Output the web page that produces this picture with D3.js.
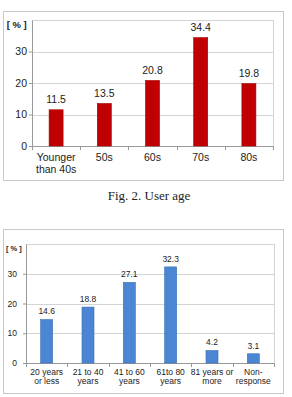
<!DOCTYPE html>
<html>
<head>
<meta charset="utf-8">
<script src="https://cdn.jsdelivr.net/npm/d3@7"></script>
<style>
  body { margin: 0; background: #fff; }
  svg { display: block; }
</style>
</head>
<body>
<svg id="plotSVG" width="292" height="397"></svg>
<script>
// chart 1 - user age
var ageCats = ["Younger|than 40s", "50s", "60s", "70s", "80s"];
var ageValues = [11.5, 13.5, 20.8, 34.4, 19.8];

// chart 2 - second age question
var ageCats2 = ["20 years|or less", "21 to 40|years", "41 to 60|years", "61to 80|years", "81 years or|more", "Non-|response"];
var ageValues2 = [14.6, 18.8, 27.1, 32.3, 4.2, 3.1];

var yTicks = [0, 10, 20, 30];

var svg = d3.select("#plotSVG");

function drawChart(opts) {
  // outer frame
  svg.append("rect")
    .attr("x", opts.box[0] + 0.5).attr("y", opts.box[1] + 0.5)
    .attr("width", opts.box[2]).attr("height", opts.box[3])
    .attr("fill", "#fff").attr("stroke", "#c8c8c8");

  let g = svg.append("g")
    .attr("transform", "translate(" + opts.left + "," + opts.top + ")");

  let xScale = d3.scaleBand()
    .domain(opts.cats)
    .range([0, opts.w]);

  let yScale = d3.scaleLinear()
    .domain([0, 40])
    .range([opts.h, 0]);

  // plot area border
  g.append("rect")
    .attr("x", 0.5).attr("y", 0.5)
    .attr("width", opts.w).attr("height", opts.h)
    .attr("fill", "none").attr("stroke", "#d4d4d4");

  // gridlines
  g.selectAll(".grid")
    .data(yTicks.slice(1))
    .join("line")
    .attr("x1", 0).attr("x2", opts.w)
    .attr("y1", d => Math.round(yScale(d)) + 0.5)
    .attr("y2", d => Math.round(yScale(d)) + 0.5)
    .attr("stroke", "#d4d4d4");

  let yAxis = g.append("g")
    .call(d3.axisLeft(yScale).tickValues(yTicks).tickSize(3).tickSizeOuter(0).tickPadding(opts.tickPad));
  yAxis.select(".domain").attr("stroke", "#999");
  yAxis.selectAll(".tick line").attr("stroke", "#999");
  yAxis.selectAll("text")
    .style("font-family", "'Liberation Sans', Arial, sans-serif")
    .style("font-size", opts.fs + "px").attr("fill", "#222");

  // [ % ] label in place of the top tick
  g.append("text")
    .attr("x", -opts.fs * 0.5).attr("y", opts.fs * 0.8)
    .attr("text-anchor", "end")
    .style("font-family", "'Liberation Sans', Arial, sans-serif")
    .style("font-size", (opts.fs - 1) + "px")
    .style("font-weight", "bold")
    .attr("fill", "#222")
    .text("[ % ]");

  // x axis
  let xAxis = g.append("g")
    .attr("transform", "translate(0," + opts.h + ")");
  xAxis.append("line")
    .attr("x1", 0).attr("x2", opts.w)
    .attr("y1", 0.5).attr("y2", 0.5)
    .attr("stroke", "#999");
  xAxis.selectAll(".xtick")
    .data(d3.range(opts.cats.length + 1))
    .join("line")
    .attr("x1", i => Math.round(i * xScale.step()) + 0.5)
    .attr("x2", i => Math.round(i * xScale.step()) + 0.5)
    .attr("y1", 0).attr("y2", 4)
    .attr("stroke", "#999");

  let labels = xAxis.selectAll(".xlab")
    .data(opts.cats)
    .join("text")
    .attr("text-anchor", "middle")
    .attr("transform", d => "translate(" + (xScale(d) + xScale.bandwidth() / 2) + "," + opts.labY + ")")
    .style("font-family", "'Liberation Sans', Arial, sans-serif")
    .style("font-size", opts.fs + "px")
    .attr("fill", "#222");
  labels.selectAll("tspan")
    .data(d => d.split("|"))
    .join("tspan")
    .attr("x", 0)
    .attr("dy", (d, i) => i == 0 ? 0 : opts.fs * 1.1)
    .text(d => d);

  // bars
  g.selectAll(".bar")
    .data(opts.values)
    .join("rect")
    .attr("class", "bar")
    .attr("x", (d, i) => xScale(opts.cats[i]) + (xScale.bandwidth() - opts.barW) / 2)
    .attr("y", d => yScale(d))
    .attr("width", opts.barW)
    .attr("height", d => opts.h - yScale(d))
    .attr("fill", opts.color)
    .attr("stroke", opts.edge)
    .attr("stroke-width", 0.6);

  // value labels
  g.selectAll(".val")
    .data(opts.values)
    .join("text")
    .attr("x", (d, i) => xScale(opts.cats[i]) + xScale.bandwidth() / 2)
    .attr("y", d => yScale(d) - opts.fs * 0.6)
    .attr("text-anchor", "middle")
    .style("font-family", "'Liberation Sans', Arial, sans-serif")
    .style("font-size", opts.fs + "px")
    .attr("fill", "#222")
    .text(d => d3.format(".1f")(d));
}

drawChart({
  box: [3, 11, 280, 169],
  left: 32, top: 20, w: 241, h: 126,
  cats: ageCats, values: ageValues,
  barW: 14, color: "#c00000", edge: "#a00000",
  fs: 10.5, labY: 15, tickPad: 2
});

// caption
svg.append("text")
  .attr("x", 149).attr("y", 200)
  .attr("text-anchor", "middle")
  .style("font-family", "'Liberation Serif', 'Times New Roman', serif")
  .style("font-size", "13px")
  .attr("fill", "#222")
  .text("Fig. 2. User age");

drawChart({
  box: [3, 229, 280, 164],
  left: 26, top: 244, w: 248, h: 119,
  cats: ageCats2, values: ageValues2,
  barW: 12, color: "#4a86d4", edge: "#3a6fb0",
  fs: 8.5, labY: 12, tickPad: 6
});
</script>
</body>
</html>
